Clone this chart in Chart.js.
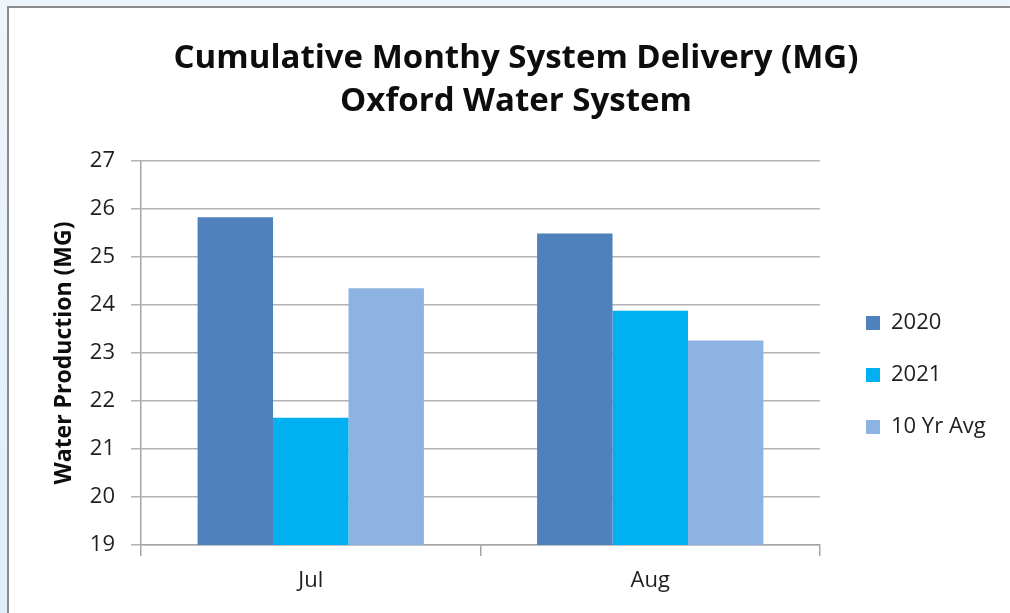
<!DOCTYPE html>
<html>
<head>
<meta charset="utf-8">
<script src="https://cdn.jsdelivr.net/npm/chart.js@4.4.1/dist/chart.umd.min.js"></script>
<style>
  html, body { margin: 0; padding: 0; width: 1010px; height: 613px; overflow: hidden;
    background: linear-gradient(180deg, #eef5fc 0%, #dfeefa 100%); }
  #frame { position: absolute; left: 7px; top: 6px; width: 1100px; height: 700px;
    border: 2px solid #8c8c8c; background: #ffffff; }
  #c { position: absolute; left: 0; top: 0; }
</style>
</head>
<body>
<div id="frame"></div>
<canvas id="c" width="1010" height="613"></canvas>
<script>
// ---- data ----
const categories = ['Jul', 'Aug'];
const seriesNames = ['2020', '2021', '10 Yr Avg'];
const values2020 = [25.83, 25.49];
const values2021 = [21.65, 23.88];
const valuesAvg = [24.35, 23.26];
const yTickValues = [19, 20, 21, 22, 23, 24, 25, 26, 27];
const titleLines = ['Cumulative Monthy System Delivery (MG)', 'Oxford Water System'];
const yAxisTitle = 'Water Production (MG)';

const colors = ['#4f81bd', '#00b0f0', '#8db3e2'];
const FONT = '"Open Sans", "Noto Sans", "DejaVu Sans", sans-serif';

const placeBlocks = {
  id: 'placeBlocks',
  afterLayout(chart) {
    const t = chart.titleBlock;
    if (t) { t.left = 22; t.right = 1010; t.width = 988; }
    const lg = chart.legend;
    if (lg) {
      const w = lg.width, h = lg.height;
      lg.left = 836; lg.right = 836 + w;
      lg.top = 282; lg.bottom = 282 + h;
    }
  }
};

new Chart(document.getElementById('c'), {
  type: 'bar',
  data: {
    labels: categories,
    datasets: [
      { label: seriesNames[0], data: values2020, backgroundColor: colors[0], borderWidth: 0 },
      { label: seriesNames[1], data: values2021, backgroundColor: colors[1], borderWidth: 0 },
      { label: seriesNames[2], data: valuesAvg, backgroundColor: colors[2], borderWidth: 0 }
    ]
  },
  options: {
    responsive: false,
    animation: false,
    events: [],
    categoryPercentage: 0.6667,
    barPercentage: 1.0,
    layout: { padding: { left: 0, right: 190, top: 0, bottom: 0 } },
    font: { family: FONT },
    plugins: {
      title: {
        display: true,
        text: titleLines,
        color: '#0d0d0d',
        font: { family: FONT, size: 33, weight: 'bold', lineHeight: 1.303 },
        padding: { top: 37, bottom: 38 }
      },
      legend: {
        display: true,
        position: 'chartArea',
        align: 'start',
        labels: {
          boxWidth: 14, boxHeight: 14, padding: 30,
          color: '#1f1f1f',
          font: { family: FONT, size: 22 }
        }
      },
      tooltip: { enabled: false }
    },
    scales: {
      x: {
        afterFit(s) { s.height = 68; },
        grid: { offset: true, drawOnChartArea: false, drawTicks: true, tickLength: 11, color: '#a6a6a6', lineWidth: 1.5 },
        border: { color: '#a6a6a6', width: 1.5 },
        ticks: { color: '#1f1f1f', font: { family: FONT, size: 22 }, padding: 12 }
      },
      y: {
        min: 19, max: 27,
        afterFit(s) { s.width = 141; },
        afterBuildTicks(s) { s.ticks = yTickValues.map(v => ({ value: v })); },
        grid: { color: '#b3b3b3', lineWidth: 1.5, tickLength: 10 },
        border: { color: '#a6a6a6', width: 1.5 },
        ticks: { color: '#1f1f1f', font: { family: FONT, size: 22 }, padding: 16 },
        title: {
          display: true, text: yAxisTitle, color: '#0d0d0d',
          font: { family: FONT, size: 23, weight: 'bold' },
          padding: { top: 51, bottom: 0 }
        }
      }
    }
  },
  plugins: [placeBlocks]
});
</script>
</body>
</html>
